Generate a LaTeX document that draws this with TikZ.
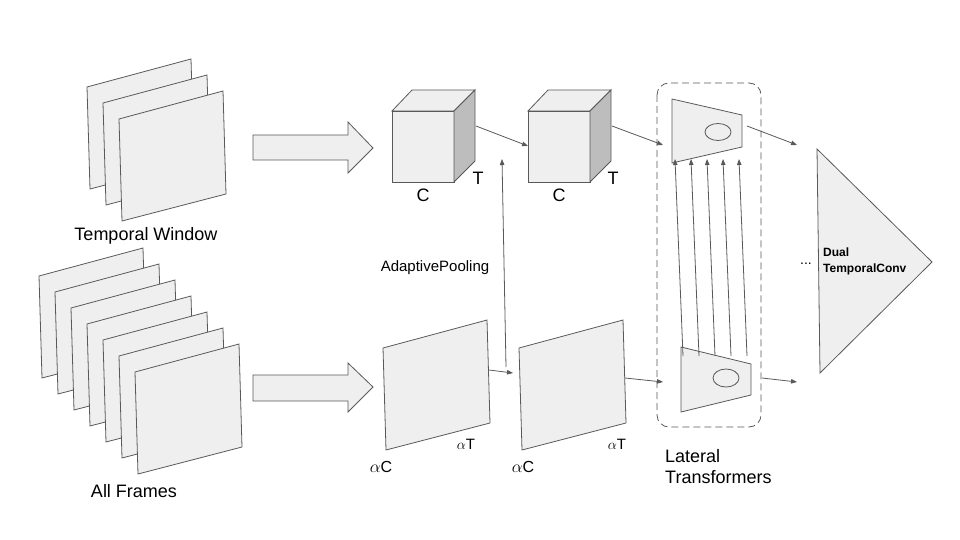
\documentclass[tikz,border=0pt]{standalone}
\usepackage{fontspec}
\setmainfont{Liberation Sans}
\usetikzlibrary{arrows.meta,calc}
\definecolor{lfill}{HTML}{EFEFEF}
\definecolor{lline}{HTML}{595959}
\definecolor{dface}{HTML}{BDBDBD}
\tikzset{
  shapebox/.style={draw=lline, fill=lfill, line width=0.8pt, line join=miter},
  darkface/.style={draw=lline, fill=dface, line width=0.8pt},
  conn/.style={draw=lline, line width=0.8pt, -{Triangle[length=6pt,width=4.5pt]}},
  lbl/.style={font=\fontsize{18}{20}\selectfont, anchor=base, inner sep=0pt},
  lblsm/.style={font=\fontsize{15}{17}\selectfont, anchor=base, inner sep=0pt},
}
\newcommand\myframe[1]{\draw[shapebox] (#1) -- ++(104,-28) -- ++(3,103) -- ++(-104,27) -- cycle;}
\newcommand\mycube[1]{%
  \draw[shapebox] (#1) rectangle ++(62,71);
  \draw[shapebox] (#1) -- ++(20,-21) -- ++(63,0) -- ++(-21,21) -- cycle;
  \draw[darkface] ($(#1)+(62,0)$) -- ++(21,-21) -- ++(0,71) -- ++(-21,21) -- cycle;}
\begin{document}
\begin{tikzpicture}[x=1pt,y=-1pt]
\useasboundingbox (0,0) rectangle (960,540);
% Temporal window frames
\foreach \i in {0,1,2} {\myframe{87+16*\i,87+16*\i}}
\node[lbl] (tw) at (146,240) {Temporal Window};
% All frames
\foreach \i in {0,...,6} {\myframe{39+16*\i,276+16*\i}}
\node[lbl] (af) at (134,497) {All Frames};
% block arrows
\draw[shapebox] (253,135) -- (348,135) -- (348,122) -- (373,148) -- (348,173) -- (348,160) -- (253,160) -- cycle;
\draw[shapebox] (253,375) -- (348,375) -- (348,363) -- (373,387) -- (348,412) -- (348,401) -- (253,401) -- cycle;
% cubes
\mycube{392,111}
\mycube{528,111}
\node[lbl] (c1C) at (423,201) {C};
\node[lbl] (c1T) at (478,184) {T};
\node[lbl] (c2C) at (559,201) {C};
\node[lbl] (c2T) at (613,184) {T};
% planes
\myframe{383,348}
\myframe{519,348}
\node[lblsm] (p1T) at (466,449) {$\alpha$T};
\node[lblsm] (p2T) at (617,449) {$\alpha$T};
\node[lbl,font=\fontsize{16}{18}\selectfont] (p1C) at (381,472) {$\alpha$C};
\node[lbl,font=\fontsize{16}{18}\selectfont] (p2C) at (523,472) {$\alpha$C};
\node[lblsm] (ap) at (435,271) {AdaptivePooling};
% lateral transformers box
\draw[lline, dash pattern=on 7pt off 4pt, line width=0.8pt, rounded corners=12pt] (657,83) rectangle (761,427);
\draw[shapebox] (672,99) -- (742,115) -- (742,147) -- (672,163) -- cycle;
\draw[draw=lline, line width=0.8pt] (718,132) ellipse [x radius=13, y radius=8.5];
\draw[shapebox] (681,347) -- (751,364) -- (751,395) -- (681,412) -- cycle;
\draw[draw=lline, line width=0.8pt] (726,378) ellipse [x radius=13, y radius=9];
\node[lbl, anchor=base west] (lt1) at (665,462) {Lateral};
\node[lbl, anchor=base west] (lt2) at (665,483) {Transformers};
% triangle
\draw[shapebox] (817,149) -- (932,262) -- (820,373) -- cycle;
\node[anchor=base west, inner sep=0pt, font=\bfseries\fontsize{12}{16}\selectfont] (dt) at (823,256) {Dual};
\node[anchor=base west, inner sep=0pt, font=\bfseries\fontsize{12}{16}\selectfont] (dt2) at (823,272) {TemporalConv};
\node[anchor=base, inner sep=0pt, font=\fontsize{14}{16}\selectfont] (dots) at (806,264) {...};
% connector coordinates
\coordinate (c1out) at (476,126);
\coordinate (c2in) at (528,146);
\coordinate (c2out) at (612,126);
\coordinate (ltin1) at (663,145);
\coordinate (p1out) at (489,370);
\coordinate (p2in) at (513,373);
\coordinate (apbot) at (506,367);
\coordinate (aptop) at (502,159);
\coordinate (p2out) at (625,378);
\coordinate (ltin2) at (663,382);
\coordinate (ut) at (747,126);
\coordinate (utend) at (797,145);
\coordinate (lto) at (762,378);
\coordinate (ltoend) at (797,382);
\draw[conn] (c1out) -- (c2in);
\draw[conn] (c2out) -- (ltin1);
\draw[conn] (p1out) -- (p2in);
\draw[conn] (apbot) -- (aptop);
\draw[conn] (p2out) -- (ltin2);
\draw[conn] (ut) -- (utend);
\draw[conn] (lto) -- (ltoend);
\foreach \k in {0,...,4} {
  \coordinate (vs\k) at (683+16*\k,356);
  \coordinate (ve\k) at (675+16*\k,159);
  \draw[conn] (vs\k) -- (ve\k);
}
\end{tikzpicture}
\end{document}
